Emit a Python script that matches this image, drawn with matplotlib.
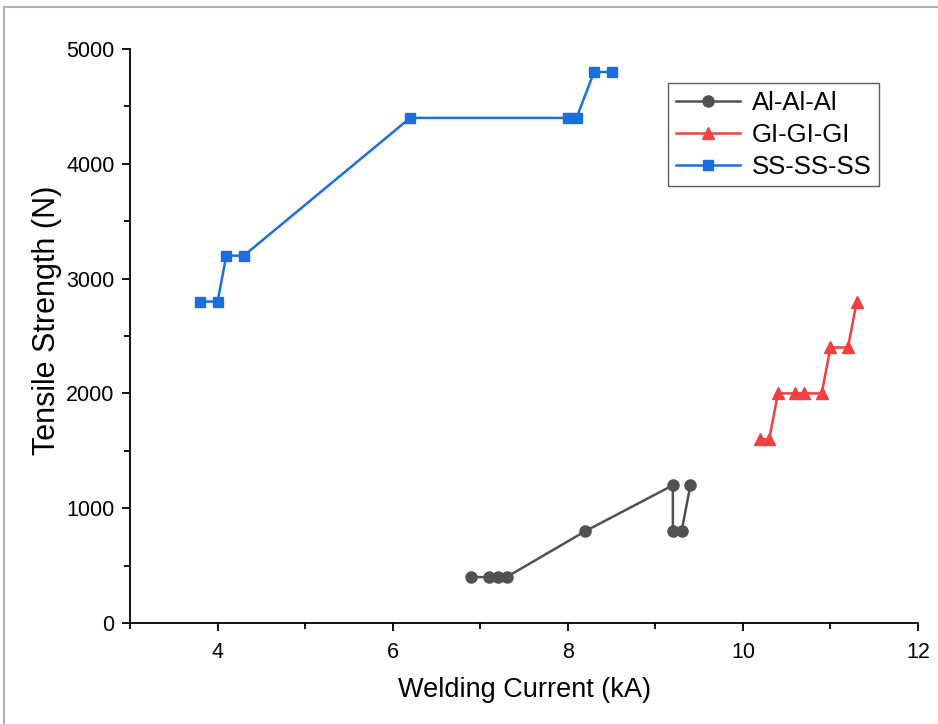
import matplotlib
matplotlib.use('Agg')
import matplotlib.pyplot as plt
from matplotlib import ticker
from matplotlib.lines import Line2D

plt.rcParams['font.family'] = ['Liberation Sans', 'DejaVu Sans']

# Al-Al-Al
al_x = [6.9, 7.1, 7.2, 7.3, 8.2, 9.2, 9.2, 9.3, 9.4]
al_y = [400, 400, 400, 400, 800, 1200, 800, 800, 1200]

# GI-GI-GI
gi_x = [10.2, 10.3, 10.4, 10.6, 10.7, 10.9, 11.0, 11.2, 11.3]
gi_y = [1600, 1600, 2000, 2000, 2000, 2000, 2400, 2400, 2800]

# SS-SS-SS
ss_x = [3.8, 4.0, 4.1, 4.3, 6.2, 8.0, 8.1, 8.3, 8.5]
ss_y = [2800, 2800, 3200, 3200, 4400, 4400, 4400, 4800, 4800]

fig = plt.figure(figsize=(9.38, 7.24), dpi=100)
ax = fig.add_axes([0.1386, 0.1395, 0.8401, 0.7928])

ax.plot(al_x, al_y, color='#515151', marker='o', markersize=8,
        linewidth=1.8, label='Al-Al-Al')
ax.plot(gi_x, gi_y, color='#F14040', marker='^', markersize=8.5,
        linewidth=1.8, label='GI-GI-GI')
ax.plot(ss_x, ss_y, color='#1A6FDF', marker='s', markersize=7.5,
        linewidth=1.8, label='SS-SS-SS')

ax.set_xlim(3, 12)
ax.set_ylim(0, 5000)
ax.xaxis.set_major_locator(ticker.MultipleLocator(2))
ax.xaxis.set_minor_locator(ticker.MultipleLocator(1))
ax.yaxis.set_major_locator(ticker.MultipleLocator(1000))
ax.yaxis.set_minor_locator(ticker.MultipleLocator(500))

for side in ['top', 'right']:
    ax.spines[side].set_visible(False)
for side in ['left', 'bottom']:
    ax.spines[side].set_linewidth(1.3)

ax.tick_params(which='major', direction='out', length=6, width=1.3,
               labelsize=15.5, pad=5)
ax.tick_params(which='minor', direction='out', length=4, width=1.3)
ax.tick_params(axis='x', which='major', pad=8)

ax.set_xlabel('Welding Current (kA)', fontsize=19.5, labelpad=10)
ax.set_ylabel('Tensile Strength (N)', fontsize=22)
ax.yaxis.set_label_coords(-0.086, 0.528)

leg = ax.legend(loc='upper left', bbox_to_anchor=(0.683, 0.94),
                fontsize=18.5, frameon=True, fancybox=False,
                edgecolor='#333333', handlelength=2.5,
                borderpad=0.3, labelspacing=0.3, handletextpad=0.45,
                borderaxespad=0.0)
leg.get_frame().set_linewidth(1.0)

# light screenshot border
fig.add_artist(Line2D([0.004, 1.0], [0.990, 0.990], color='#b0b0b0',
                      linewidth=1.5, transform=fig.transFigure))
fig.add_artist(Line2D([0.004, 0.004], [0.0, 0.990], color='#b0b0b0',
                      linewidth=1.5, transform=fig.transFigure))

fig.savefig('out.png', dpi=100)
